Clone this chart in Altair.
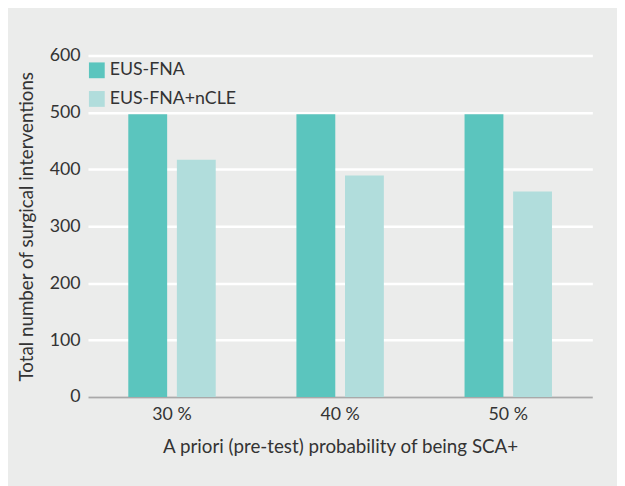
import altair as alt
import pandas as pd

categories = ["30 %", "40 %", "50 %"]
series = ["EUS-FNA", "EUS-FNA+nCLE"]
eus_fna = [497, 497, 497]
eus_fna_ncle = [417, 389, 361]

rows = []
for i, c in enumerate(categories):
    rows.append({"prob": c, "method": series[0], "value": eus_fna[i]})
    rows.append({"prob": c, "method": series[1], "value": eus_fna_ncle[i]})
df = pd.DataFrame(rows)

FONT = "Lato"
TXT = "#333333"
BG = "#ebeceb"

chart = alt.Chart(df).mark_bar().encode(
    x=alt.X("prob:N", sort=categories,
            scale=alt.Scale(paddingInner=0.48, paddingOuter=0.24),
            axis=alt.Axis(title="A priori (pre-test) probability of being SCA+",
                          labelAngle=0, ticks=False, labelPadding=9,
                          domainColor="#a9a9a9", domainWidth=2,
                          titlePadding=14)),
    xOffset=alt.XOffset("method:N", sort=series,
                        scale=alt.Scale(paddingInner=0.2, paddingOuter=0)),
    y=alt.Y("value:Q", scale=alt.Scale(domain=[0, 600]),
            axis=alt.Axis(title="Total number of surgical interventions",
                          values=[0, 100, 200, 300, 400, 500, 600],
                          ticks=False, domain=False, labelPadding=8,
                          gridColor="white", gridWidth=2.7, titlePadding=13)),
    color=alt.Color("method:N", sort=series,
                    scale=alt.Scale(domain=series, range=["#5bc5be", "#b1dddc"]),
                    legend=alt.Legend(title=None, orient="none", legendX=0, legendY=6,
                                      symbolType="square", symbolSize=256,
                                      symbolStrokeWidth=0, rowPadding=11,
                                      labelOffset=4, padding=0,
                                      labelFontSize=18, labelFont=FONT,
                                      labelColor=TXT)),
).properties(
    width=511, height=346,
    autosize="none",
    padding={"left": 81, "top": 45, "right": 25, "bottom": 87},
    background=BG,
).configure_view(
    stroke=None, fill=BG
).configure_axis(
    labelFont=FONT, titleFont=FONT, labelFontSize=18, titleFontSize=19,
    labelColor=TXT, titleColor=TXT, titleFontWeight="normal"
).configure_axisX(grid=False)

chart.save("out.html", embed_options={"renderer": "svg", "actions": False})
